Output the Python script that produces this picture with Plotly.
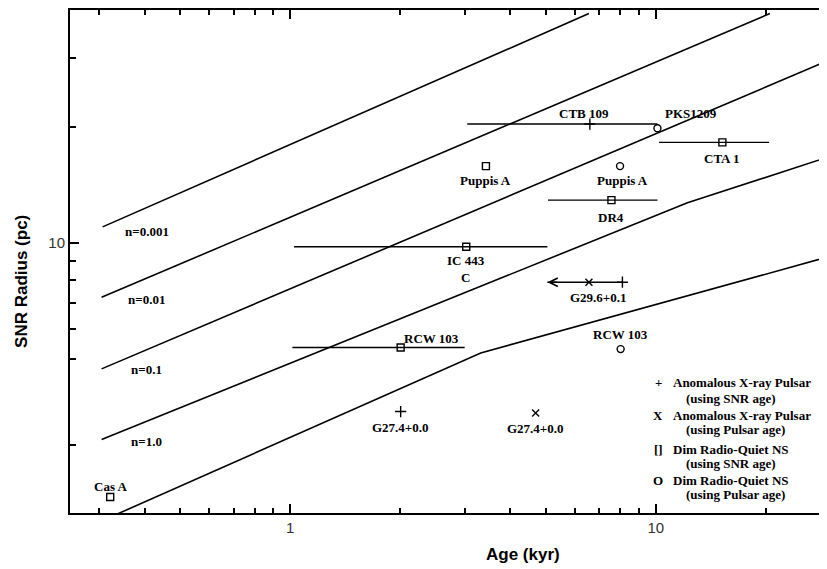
import numpy as np
import plotly.graph_objects as go

# ---------------- data ----------------
# Evolution tracks for different ambient densities (age in kyr, radius in pc)
line_labels = ["n=0.001", "n=0.01", "n=0.1", "n=1.0", "n=10.0"]
line_ages = [[0.307, 6.56], [0.305, 20.5], [0.305, 29.5],
             [0.305, 12.2, 29.5], [0.305, 3.32, 29.5]]
line_radii = [[11.0, 39.2], [7.23, 39.2], [4.72, 29.6],
              [3.10, 12.7, 16.66], [1.907, 5.19, 9.19]]

# Anomalous X-ray Pulsars, using SNR age (+)
axp_snr_names = ["CTB 109", "G27.4+0.0", ""]
axp_snr_age = [6.60, 2.005, 8.10]
axp_snr_radius = [20.3, 3.66, 7.91]
axp_snr_age_lo = [3.05, 2.005, 8.10]
axp_snr_age_hi = [10.1, 2.005, 8.10]

# Anomalous X-ray Pulsars, using pulsar age (x)
axp_psr_names = ["G29.6+0.1", "G27.4+0.0"]
axp_psr_age = [6.56, 4.69]
axp_psr_radius = [7.91, 3.63]
axp_psr_age_lo = [5.05, 4.69]
axp_psr_age_hi = [8.10, 4.69]
axp_psr_upper_limit = [True, False]

# Dim radio-quiet NS, using SNR age (square)
ns_snr_names = ["Cas A", "Puppis A", "IC 443<br>C", "CTA 1", "DR4", "RCW 103"]
ns_snr_age = [0.322, 3.43, 3.03, 15.2, 7.56, 2.005]
ns_snr_radius = [2.20, 15.8, 9.77, 18.2, 12.9, 5.36]
ns_snr_age_lo = [0.322, 3.43, 1.024, 10.2, 5.07, 1.014]
ns_snr_age_hi = [0.322, 3.43, 5.05, 20.4, 10.1, 3.00]

# Dim radio-quiet NS, using pulsar age (circle)
ns_psr_names = ["PKS1209", "Puppis A", "RCW 103"]
ns_psr_age = [10.1, 7.98, 8.01]
ns_psr_radius = [19.8, 15.8, 5.31]

x_major = [1, 10]
x_major_text = ["1", "10"]
x_minor = [0.3, 0.4, 0.5, 0.6, 0.7, 0.8, 0.9, 2, 3, 4, 5, 6, 7, 8, 9, 20]
y_major = [10]
y_major_text = ["10"]
y_minor = [3, 5, 6, 7, 8, 9, 20, 30]

legend_symbols = ["+", "X", "[]", "O"]
legend_titles = ["Anomalous X-ray Pulsar", "Anomalous X-ray Pulsar",
                 "Dim Radio-Quiet NS", "Dim Radio-Quiet NS"]
legend_notes = ["(using SNR age)", "(using Pulsar age)",
                "(using SNR age)", "(using Pulsar age)"]

# ---------------- styling / layout ----------------
BODY = 8                      # default page margin of the html body
W, H = 819, 561
ML, MR, MT, MB = 62, 0, 0, 56
PW, PH = W - ML - MR, H - MT - MB
X_RANGE = [np.log10(0.25), np.log10(0.25) + PW / 365.7]
Y_RANGE = [np.log10(2.0), np.log10(2.0) + PH / 388.0]

SERIF = "Liberation Serif, Times New Roman, serif"
SANS = "Liberation Sans, Arial, sans-serif"
lab_font = dict(family=SERIF, size=13, color="black", weight="bold")

# pixel offsets (dx right, dy down) of the labels relative to their points
axp_snr_off = [(-6, -11, "center"), (0, 16, "center"), None]
axp_psr_off = [(10, 15, "center"), (0, 16, "center")]
ns_snr_off = [(0, -11, "center"), (0, 14, "center"), (0, 22, "center"),
              (0, 16, "center"), (0, 17, "center"), (1, -9, "left")]
ns_psr_off = [(34, -15, "center"), (2, 14, "center"), (0, -15, "center")]


def px_x(px):
    """screen pixel (window coords) -> paper x"""
    return (px - BODY - ML) / PW


def px_y(py):
    return (MT + PH - (py - BODY)) / PH


fig = go.Figure()

for ages, radii in zip(line_ages, line_radii):
    fig.add_trace(go.Scatter(x=ages, y=radii, mode="lines",
                             line=dict(color="black", width=1.6),
                             showlegend=False, hoverinfo="skip"))


def err(age, lo, hi):
    return dict(type="data", symmetric=False,
                array=[h - a for a, h in zip(age, hi)],
                arrayminus=[a - l for a, l in zip(age, lo)],
                color="black", thickness=1.4, width=0)


def add_points(age, rad, symbol, size, lo=None, hi=None):
    kw = {}
    if lo is not None:
        kw["error_x"] = err(age, lo, hi)
    fig.add_trace(go.Scatter(
        x=age, y=rad, mode="markers", showlegend=False,
        marker=dict(symbol=symbol, size=size, color="black",
                    line=dict(color="black", width=1.4)), **kw))


add_points(axp_snr_age, axp_snr_radius, "cross-thin-open", 8, axp_snr_age_lo, axp_snr_age_hi)
add_points(axp_psr_age, axp_psr_radius, "x-thin-open", 7, axp_psr_age_lo, axp_psr_age_hi)
add_points(ns_snr_age, ns_snr_radius, "square-open", 7, ns_snr_age_lo, ns_snr_age_hi)
add_points(ns_psr_age, ns_psr_radius, "circle-open", 7)

annotations = []


def add_labels(names, age, rad, offs):
    for n, a, r, o in zip(names, age, rad, offs):
        if not n or o is None:
            continue
        dx, dy, anc = o
        annotations.append(dict(x=np.log10(a), y=np.log10(r), xref="x", yref="y",
                                text=n, showarrow=False, font=lab_font,
                                xanchor=anc, yanchor="middle",
                                xshift=dx, yshift=-dy))


add_labels(axp_snr_names, axp_snr_age, axp_snr_radius, axp_snr_off)
add_labels(axp_psr_names, axp_psr_age, axp_psr_radius, axp_psr_off)
add_labels(ns_snr_names, ns_snr_age, ns_snr_radius, ns_snr_off)
add_labels(ns_psr_names, ns_psr_age, ns_psr_radius, ns_psr_off)

# upper-limit arrowhead
for lim, lo, r in zip(axp_psr_upper_limit, axp_psr_age_lo, axp_psr_radius):
    if lim:
        annotations.append(dict(x=np.log10(lo), y=np.log10(r), xref="x", yref="y",
                                ax=np.log10(lo) + 0.03, ay=np.log10(r),
                                axref="x", ayref="y", text="", showarrow=True,
                                arrowhead=5, arrowsize=1.2, arrowwidth=1.4,
                                arrowcolor="black"))

# density labels next to the start of each track
n_label_off = [(44, 5), (45, 2), (45, 1), (45, 2), (109, -31)]
for lab, ages, radii, (dx, dy) in zip(line_labels, line_ages, line_radii, n_label_off):
    annotations.append(dict(x=np.log10(ages[0]), y=np.log10(radii[0]), xref="x", yref="y",
                            text=lab, showarrow=False, font=lab_font,
                            xanchor="center", yanchor="middle", xshift=dx, yshift=-dy))

# custom legend text
title_rows = [381.7, 415, 449.5, 480.5]
note_rows = [398.3, 429, 463.5, 494.5]
for sym, t, nt, ty, ny in zip(legend_symbols, legend_titles, legend_notes, title_rows, note_rows):
    annotations.append(dict(x=px_x(658), y=px_y(ty), xref="paper", yref="paper",
                            text=sym, showarrow=False, font=lab_font,
                            xanchor="center", yanchor="middle"))
    annotations.append(dict(x=px_x(671), y=px_y(ty), xref="paper", yref="paper",
                            text=t, showarrow=False, font=lab_font,
                            xanchor="left", yanchor="middle"))
    annotations.append(dict(x=px_x(684), y=px_y(ny), xref="paper", yref="paper",
                            text=nt, showarrow=False, font=lab_font,
                            xanchor="left", yanchor="middle"))

# axis titles
ttl_font = dict(family=SANS, size=17, color="black", weight="bold")
annotations.append(dict(x=px_x(523), y=px_y(555), xref="paper", yref="paper",
                        text="Age (kyr)", showarrow=False, font=ttl_font,
                        xanchor="center", yanchor="middle"))
annotations.append(dict(x=px_x(22), y=px_y(281), xref="paper", yref="paper",
                        text="SNR Radius (pc)", showarrow=False, font=ttl_font,
                        textangle=-90, xanchor="center", yanchor="middle"))

tick_font = dict(family=SANS, size=15, color="#333333")
axis_common = dict(type="log", showgrid=False, zeroline=False, showline=True,
                   linecolor="black", linewidth=2, ticks="inside", ticklen=9,
                   tickwidth=1.6, tickcolor="black", tickfont=tick_font,
                   tickmode="array")

fig.update_layout(
    width=W, height=H,
    margin=dict(l=ML, r=MR, t=MT, b=MB, pad=0),
    paper_bgcolor="white", plot_bgcolor="white",
    showlegend=False,
    xaxis=dict(axis_common, range=X_RANGE, tickvals=x_major, ticktext=x_major_text,
               mirror="ticks",
               minor=dict(tickmode="array", tickvals=x_minor, ticks="inside",
                          ticklen=5, tickwidth=1.6, tickcolor="black", showgrid=False)),
    yaxis=dict(axis_common, range=Y_RANGE, tickvals=y_major, ticktext=y_major_text,
               mirror=False,
               minor=dict(tickmode="array", tickvals=y_minor, ticks="inside",
                          ticklen=6, tickwidth=1.6, tickcolor="black", showgrid=False)),
    annotations=annotations,
)

fig.write_html("out.html")
